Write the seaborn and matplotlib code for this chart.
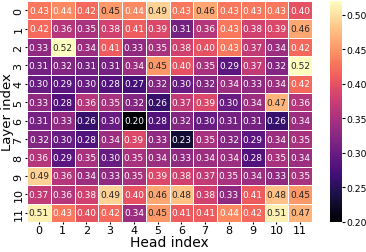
import numpy as np
import pandas as pd
import matplotlib
matplotlib.use("Agg")
import matplotlib.pyplot as plt
import seaborn as sns

# attention scores per layer (rows) and head (columns)
layers = list(range(12))
heads = list(range(12))

row0 = [0.43, 0.44, 0.42, 0.45, 0.44, 0.49, 0.43, 0.46, 0.43, 0.43, 0.43, 0.40]
row1 = [0.42, 0.36, 0.35, 0.38, 0.41, 0.39, 0.31, 0.36, 0.43, 0.38, 0.39, 0.46]
row2 = [0.33, 0.52, 0.34, 0.41, 0.33, 0.35, 0.38, 0.40, 0.43, 0.37, 0.34, 0.42]
row3 = [0.31, 0.32, 0.31, 0.31, 0.34, 0.45, 0.40, 0.35, 0.29, 0.37, 0.32, 0.52]
row4 = [0.30, 0.29, 0.30, 0.28, 0.27, 0.32, 0.30, 0.32, 0.34, 0.33, 0.34, 0.42]
row5 = [0.33, 0.28, 0.36, 0.35, 0.32, 0.26, 0.37, 0.39, 0.30, 0.34, 0.47, 0.36]
row6 = [0.31, 0.33, 0.26, 0.30, 0.20, 0.28, 0.32, 0.30, 0.31, 0.31, 0.26, 0.34]
row7 = [0.32, 0.30, 0.28, 0.34, 0.39, 0.33, 0.23, 0.35, 0.32, 0.29, 0.34, 0.35]
row8 = [0.36, 0.29, 0.35, 0.30, 0.35, 0.34, 0.33, 0.34, 0.34, 0.28, 0.35, 0.34]
row9 = [0.49, 0.36, 0.34, 0.33, 0.35, 0.39, 0.38, 0.37, 0.35, 0.34, 0.33, 0.35]
row10 = [0.37, 0.36, 0.38, 0.49, 0.40, 0.46, 0.48, 0.38, 0.33, 0.41, 0.48, 0.45]
row11 = [0.51, 0.43, 0.40, 0.42, 0.34, 0.45, 0.41, 0.41, 0.44, 0.42, 0.51, 0.47]

rows = [row0, row1, row2, row3, row4, row5, row6, row7, row8, row9, row10, row11]
df = pd.DataFrame(rows, index=layers, columns=heads)

fig = plt.figure(figsize=(3.66, 2.53), dpi=100)
ax = fig.add_axes([0.0738, 0.1186, 0.7787, 0.8735])
cax = fig.add_axes([0.9016, 0.1186, 0.0328, 0.8735])

sns.heatmap(df, ax=ax, cbar_ax=cax, cmap="magma", annot=True, fmt=".2f",
            annot_kws={"fontsize": 6.5}, linewidths=0.5, linecolor="white")

ax.set_xlabel("Head index", fontsize=10, labelpad=0)
ax.set_ylabel("Layer index", fontsize=9.5)
ax.yaxis.set_label_coords(-0.046, 0.5)
ax.tick_params(axis="both", labelsize=8, length=1.5, pad=1)
ax.set_yticklabels(layers, rotation=90, va="center")
ax.set_xticklabels(heads, rotation=0)
cax.tick_params(labelsize=6.7, length=2, pad=1)
cax.set_yticks([0.20, 0.25, 0.30, 0.35, 0.40, 0.45, 0.50])
cax.set_yticklabels(["0.20", "0.25", "0.30", "0.35", "0.40", "0.45", "0.50"])

fig.savefig("out.png", dpi=100)
